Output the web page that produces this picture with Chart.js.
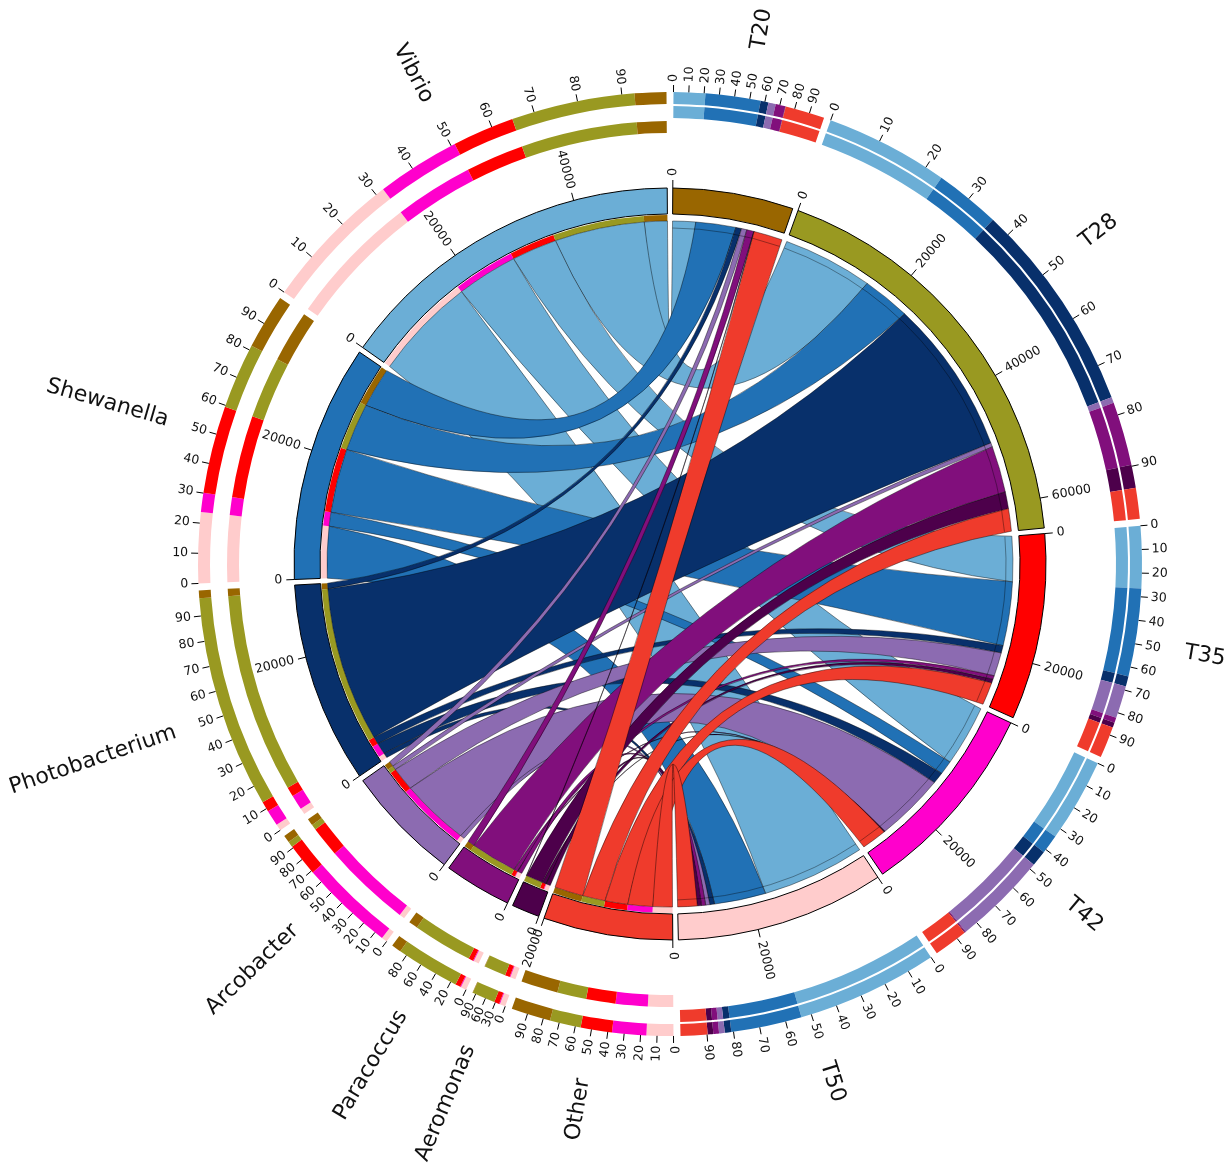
<!DOCTYPE html>
<html>
<head>
<meta charset="utf-8">
<title>Genus / sample chord diagram</title>
<script src="https://cdn.jsdelivr.net/npm/chart.js@4.4.0/dist/chart.umd.min.js"></script>
<style>
  html, body { margin: 0; padding: 0; background: #fff; }
  #wrap { width: 1231px; height: 1174px; position: relative; }
</style>
</head>
<body>
<div id="wrap"><canvas id="chord"></canvas></div>
<script>
// Samples (columns) and genera (rows)
const samples = ['T20', 'T28', 'T35', 'T42', 'T50'];
const genera = ['Vibrio', 'Shewanella', 'Photobacterium', 'Arcobacter', 'Paracoccus', 'Aeromonas', 'Other'];

// Reads of each genus in T20, T28, T35, T42, T50
const vibrio         = [3890, 15200, 7630, 10300, 17400];
const shewanella     = [6770, 8070, 10790, 2350, 8700];
const photobacterium = [960, 26160, 1260, 1950, 800];
const arcobacter     = [910, 710, 3990, 11600, 700];
const paracoccus     = [1200, 7820, 630, 100, 700];
const aeromonas      = [50, 2840, 630, 100, 700];
const other          = [4850, 3810, 3850, 4200, 3300];

// Tick labels
const countTickStep = 20000;
const pctTicks = [0, 10, 20, 30, 40, 50, 60, 70, 80, 90];

const sampleColors = ['#996600', '#999921', '#ff0000', '#ff00cc', '#ffcccc'];
const genusColors = ['#6baed6', '#2171b5', '#08306b', '#8c6bb1', '#810f7c', '#4d004b', '#ef3b2c'];

const counts = [vibrio, shewanella, photobacterium, arcobacter, paracoccus, aeromonas, other];
const GAP = 850;
const NONE = 'rgba(0,0,0,0)';
const FONT = '"DejaVu Sans", Verdana, sans-serif';

// Segments round the circle, clockwise from the top
const segments = [];
samples.forEach((name, j) => {
    segments.push({
        name: name, color: sampleColors[j], isSample: true,
        parts: genera.map((g, i) => ({ i: i, j: j, value: counts[i][j], color: genusColors[i] }))
    });
});
for (let i = genera.length - 1; i >= 0; i--) {
    segments.push({
        name: genera[i], color: genusColors[i], isSample: false,
        parts: [4, 3, 2, 1, 0].map(j => ({ i: i, j: j, value: counts[i][j], color: sampleColors[j] }))
    });
}
segments.forEach(s => { s.total = s.parts.reduce((a, p) => a + p.value, 0); });

// Slice layout shared by the composition rings and the ribbon strip
const partValues = [], allColors = [], sampleOnly = [], genusOnly = [];
const sampleEnd = {}, genusEnd = {};
segments.forEach(s => {
    partValues.push(GAP); allColors.push(NONE); sampleOnly.push(NONE); genusOnly.push(NONE);
    s.parts.forEach(p => {
        const idx = partValues.length;
        partValues.push(p.value);
        allColors.push(p.color);
        sampleOnly.push(s.isSample ? p.color : NONE);
        genusOnly.push(s.isSample ? NONE : p.color);
        (s.isSample ? sampleEnd : genusEnd)[p.i + '-' + p.j] = idx;
    });
});

// Whole segments for the ideogram ring
const segValues = [], segColors = [], segBorders = [];
segments.forEach(s => {
    segValues.push(GAP, s.total);
    segColors.push(NONE, s.color);
    segBorders.push(0, 1);
});

const grandTotal = segValues.reduce((a, b) => a + b, 0);
const gapDeg = GAP / grandTotal * 360;

function spacer(w) {
    return { data: [1], backgroundColor: NONE, borderWidth: 0, weight: w };
}

const IDEO = 6;
const STRIP = 8;
const datasets = [
    { data: partValues, backgroundColor: allColors, borderWidth: 0, weight: 12 },
    spacer(2),
    { data: partValues, backgroundColor: sampleOnly, borderWidth: 0, weight: 12 },
    spacer(3),
    { data: partValues, backgroundColor: genusOnly, borderWidth: 0, weight: 12 },
    spacer(55),
    { data: segValues, backgroundColor: segColors, borderColor: '#000', borderWidth: segBorders, weight: 26 },
    spacer(1),
    { data: partValues, backgroundColor: genusOnly, borderWidth: 0, weight: 6 }
];

function radialText(ctx, cx, cy, ang, r, text) {
    ctx.save();
    ctx.translate(cx + r * Math.cos(ang), cy + r * Math.sin(ang));
    if (Math.cos(ang) >= -1e-6) {
        ctx.rotate(ang);
        ctx.textAlign = 'left';
    } else {
        ctx.rotate(ang + Math.PI);
        ctx.textAlign = 'right';
    }
    ctx.textBaseline = 'middle';
    ctx.fillText(text, 0, 0);
    ctx.restore();
}

function tickLine(ctx, cx, cy, ang, r0, r1) {
    ctx.beginPath();
    ctx.moveTo(cx + r0 * Math.cos(ang), cy + r0 * Math.sin(ang));
    ctx.lineTo(cx + r1 * Math.cos(ang), cy + r1 * Math.sin(ang));
    ctx.stroke();
}

// curve from angle a to angle b, pulled towards the centre
function bend(ctx, cx, cy, r, a, b) {
    const k = 0.17 * r / 2;
    const qx = cx + k * (Math.cos(a) + Math.cos(b));
    const qy = cy + k * (Math.sin(a) + Math.sin(b));
    ctx.quadraticCurveTo(qx, qy, cx + r * Math.cos(b), cy + r * Math.sin(b));
}

// Ribbons between genus and sample ends of the strip
const ribbonPlugin = {
    id: 'ribbons',
    afterDatasetsDraw(chart) {
        const ctx = chart.ctx;
        const strip = chart.getDatasetMeta(STRIP).data;
        const cx = strip[0].x, cy = strip[0].y, r = strip[0].innerRadius;
        ctx.save();
        genera.forEach((g, i) => {
            samples.forEach((s, j) => {
                const a = strip[genusEnd[i + '-' + j]];
                const b = strip[sampleEnd[i + '-' + j]];
                ctx.beginPath();
                ctx.arc(cx, cy, r, a.startAngle, a.endAngle);
                bend(ctx, cx, cy, r, a.endAngle, b.startAngle);
                ctx.arc(cx, cy, r, b.startAngle, b.endAngle);
                bend(ctx, cx, cy, r, b.endAngle, a.startAngle);
                ctx.closePath();
                ctx.fillStyle = genusColors[i];
                ctx.fill();
                ctx.lineWidth = 0.7;
                ctx.strokeStyle = 'rgba(0,0,0,0.6)';
                ctx.stroke();
            });
        });
        // thin line just inside the sample segments
        const ideo = chart.getDatasetMeta(IDEO).data;
        ctx.lineWidth = 0.8;
        ctx.strokeStyle = 'rgba(0,0,0,0.45)';
        segments.forEach((s, k) => {
            if (!s.isSample) return;
            const el = ideo[2 * k + 1];
            ctx.beginPath();
            ctx.arc(cx, cy, r - 7, el.startAngle, el.endAngle);
            ctx.stroke();
        });
        ctx.restore();
    }
};

// Count ticks, percent ticks and segment names
const labelPlugin = {
    id: 'labels',
    afterDraw(chart) {
        const ctx = chart.ctx;
        const ideo = chart.getDatasetMeta(IDEO).data;
        const ring = chart.getDatasetMeta(0).data[0];
        const cx = ring.x, cy = ring.y;
        ctx.save();
        ctx.fillStyle = '#111';
        ctx.strokeStyle = '#000';
        ctx.lineWidth = 1;
        segments.forEach((s, k) => {
            const el = ideo[2 * k + 1];
            const a0 = el.startAngle, a1 = el.endAngle;
            const ro = el.outerRadius;
            ctx.font = '12.5px ' + FONT;
            for (let v = 0; v <= s.total; v += countTickStep) {
                const ang = a0 + (a1 - a0) * v / s.total;
                tickLine(ctx, cx, cy, ang, ro, ro + 8);
                radialText(ctx, cx, cy, ang, ro + 12, String(v));
            }
            const spanDeg = (a1 - a0) * 180 / Math.PI;
            const step = spanDeg < 6 ? 30 : (spanDeg < 12 ? 20 : 10);
            pctTicks.forEach(p => {
                if (p % step !== 0) return;
                const ang = a0 + (a1 - a0) * p / 100;
                tickLine(ctx, cx, cy, ang, ring.outerRadius, ring.outerRadius + 7);
                radialText(ctx, cx, cy, ang, ring.outerRadius + 10, String(p));
            });
            ctx.font = '22px ' + FONT;
            radialText(ctx, cx, cy, (a0 + a1) / 2, 522, s.name);
        });
        ctx.restore();
    }
};

new Chart(document.getElementById('chord'), {
    type: 'doughnut',
    data: { labels: partValues.map((v, i) => String(i)), datasets: datasets },
    options: {
        responsive: true,
        maintainAspectRatio: false,
        animation: false,
        events: [],
        radius: 472,
        cutout: (343 / 472 * 100) + '%',
        rotation: -gapDeg / 2,
        layout: { padding: { left: 198, right: 89, top: 92, bottom: 138 } },
        plugins: { legend: { display: false }, tooltip: { enabled: false } }
    },
    plugins: [ribbonPlugin, labelPlugin]
});
</script>
</body>
</html>
